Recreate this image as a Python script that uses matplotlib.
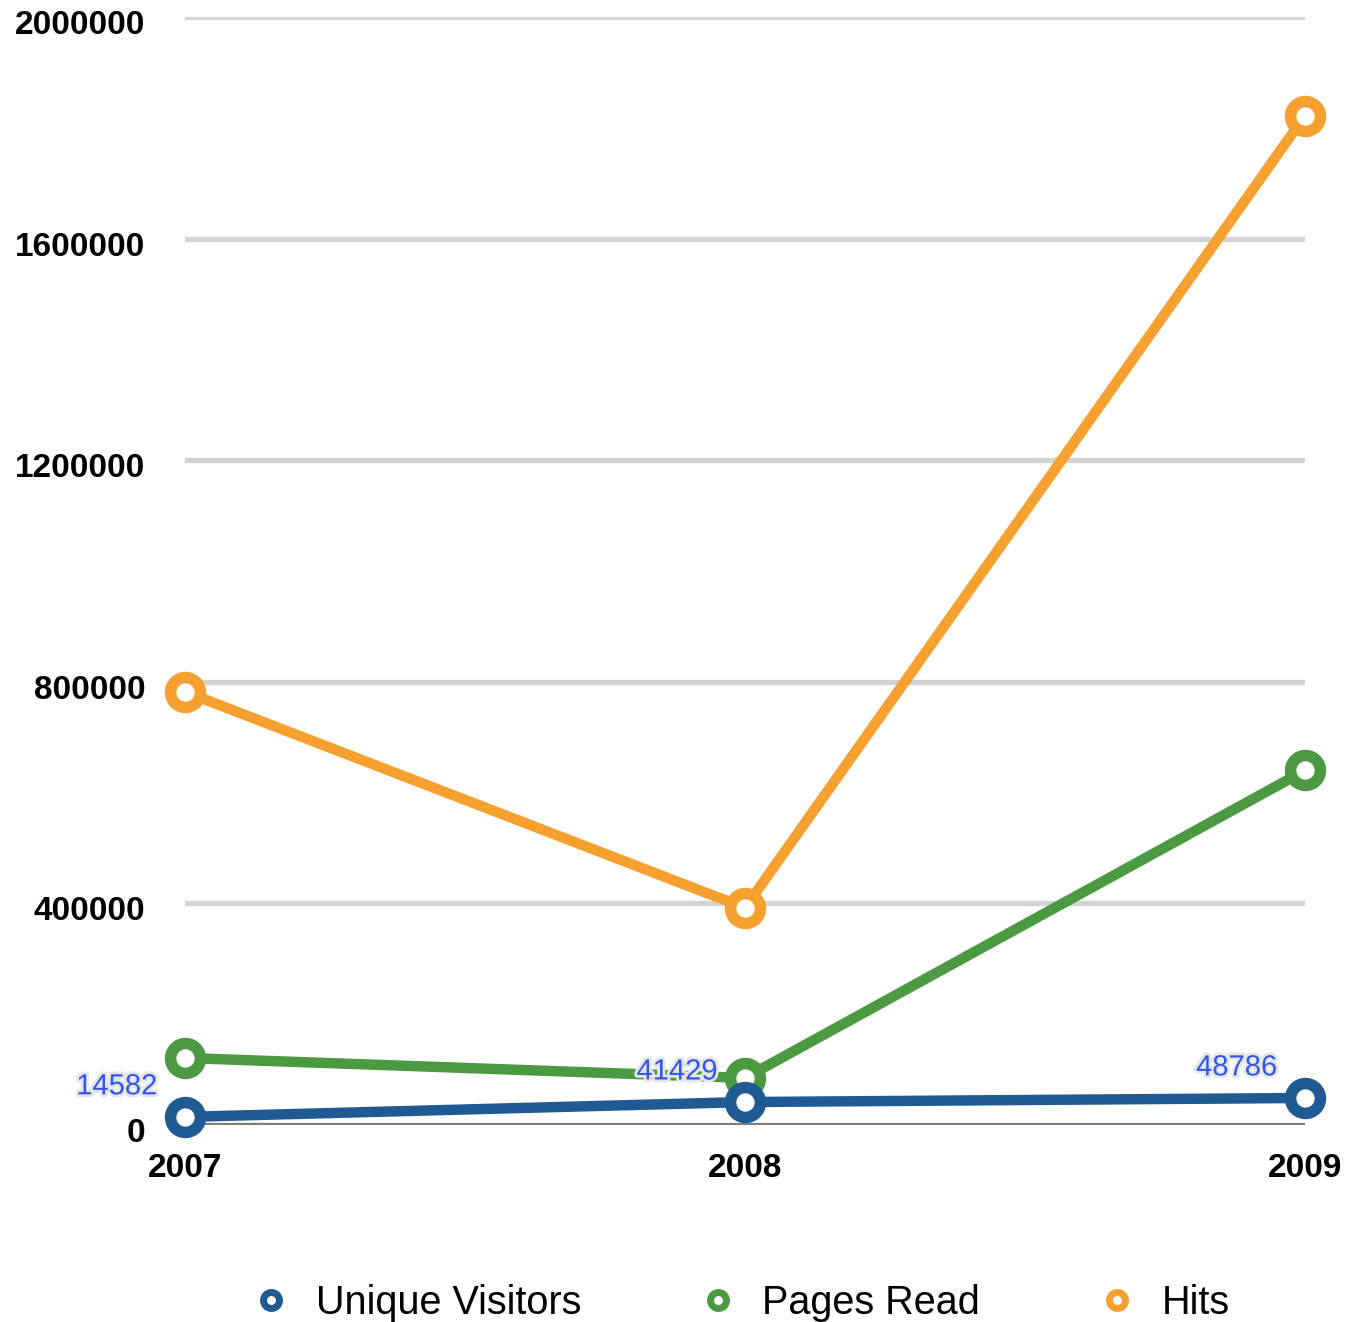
import matplotlib
matplotlib.use('Agg')
import matplotlib.pyplot as plt
import matplotlib.patheffects as pe
import matplotlib.transforms as mtransforms
from matplotlib.lines import Line2D

years = [2007, 2008, 2009]
unique_visitors = [14582, 41429, 48786]
pages_read = [121000, 85000, 640000]
hits = [782000, 392000, 1822000]
series_names = ['Unique Visitors', 'Pages Read', 'Hits']
series_colors = ['#1f5a92', '#4b9a42', '#f6a030']
y_ticks = [0, 400000, 800000, 1200000, 1600000, 2000000]

plt.rcParams['font.family'] = ['Liberation Sans', 'DejaVu Sans']

fig = plt.figure(figsize=(13.53, 13.22), dpi=100)
ax = fig.add_axes([185 / 1353, 1 - 1125 / 1322, 1120 / 1353, 1108 / 1322])

# grid lines and zero line
for t in y_ticks[1:]:
    ax.axhline(t, color='#d3d3d3', lw=3.8, zorder=1)
ax.axhline(0, color='#7c7c7c', lw=3.8, zorder=2)

# lines, bottom to top: hits, pages read, unique visitors
all_series = [unique_visitors, pages_read, hits]
for i in [2, 1, 0]:
    ax.plot(years, all_series[i], color=series_colors[i], lw=7.5, marker='o',
            ms=21.5, mew=8.3, mfc='white', mec=series_colors[i],
            solid_capstyle='round', clip_on=False, zorder=3 + (2 - i))

# value labels for unique visitors
for x, v in zip(years, unique_visitors):
    ax.annotate(str(v), (x, v), xytext=(-20, 22), textcoords='offset points',
                ha='right', va='center', fontsize=21, color='#3355ee', zorder=10,
                path_effects=[pe.withStroke(linewidth=4, foreground='#e6e6e6')])

ax.set_xlim(2007, 2009)
ax.set_ylim(0, 2000000)
ax.set_xticks(years)
ax.set_xticklabels([str(y) for y in years])
ax.set_yticks(y_ticks)
ax.set_yticklabels([str(t) for t in y_ticks])
ax.tick_params(length=0, labelsize=24)
ax.tick_params(axis='y', pad=28.5)
ax.tick_params(axis='x', pad=20)
shift = mtransforms.ScaledTranslation(0, -5 / 100, fig.dpi_scale_trans)
for lab in ax.get_yticklabels():
    lab.set_transform(lab.get_transform() + shift)
for lab in ax.get_xticklabels() + ax.get_yticklabels():
    lab.set_fontweight('bold')
for s in ax.spines.values():
    s.set_visible(False)

handles = [Line2D([], [], ls='none', marker='o', ms=11.5, mew=5, mfc='white',
                  mec=c) for c in series_colors]
fig.legend(handles, series_names, loc='center', bbox_to_anchor=(0.5457, 1 - 1303 / 1322),
           ncol=3, frameon=False, fontsize=28.5, handletextpad=0.53,
           columnspacing=2.85, handlelength=1.2)

fig.savefig('out.png', dpi=100)
